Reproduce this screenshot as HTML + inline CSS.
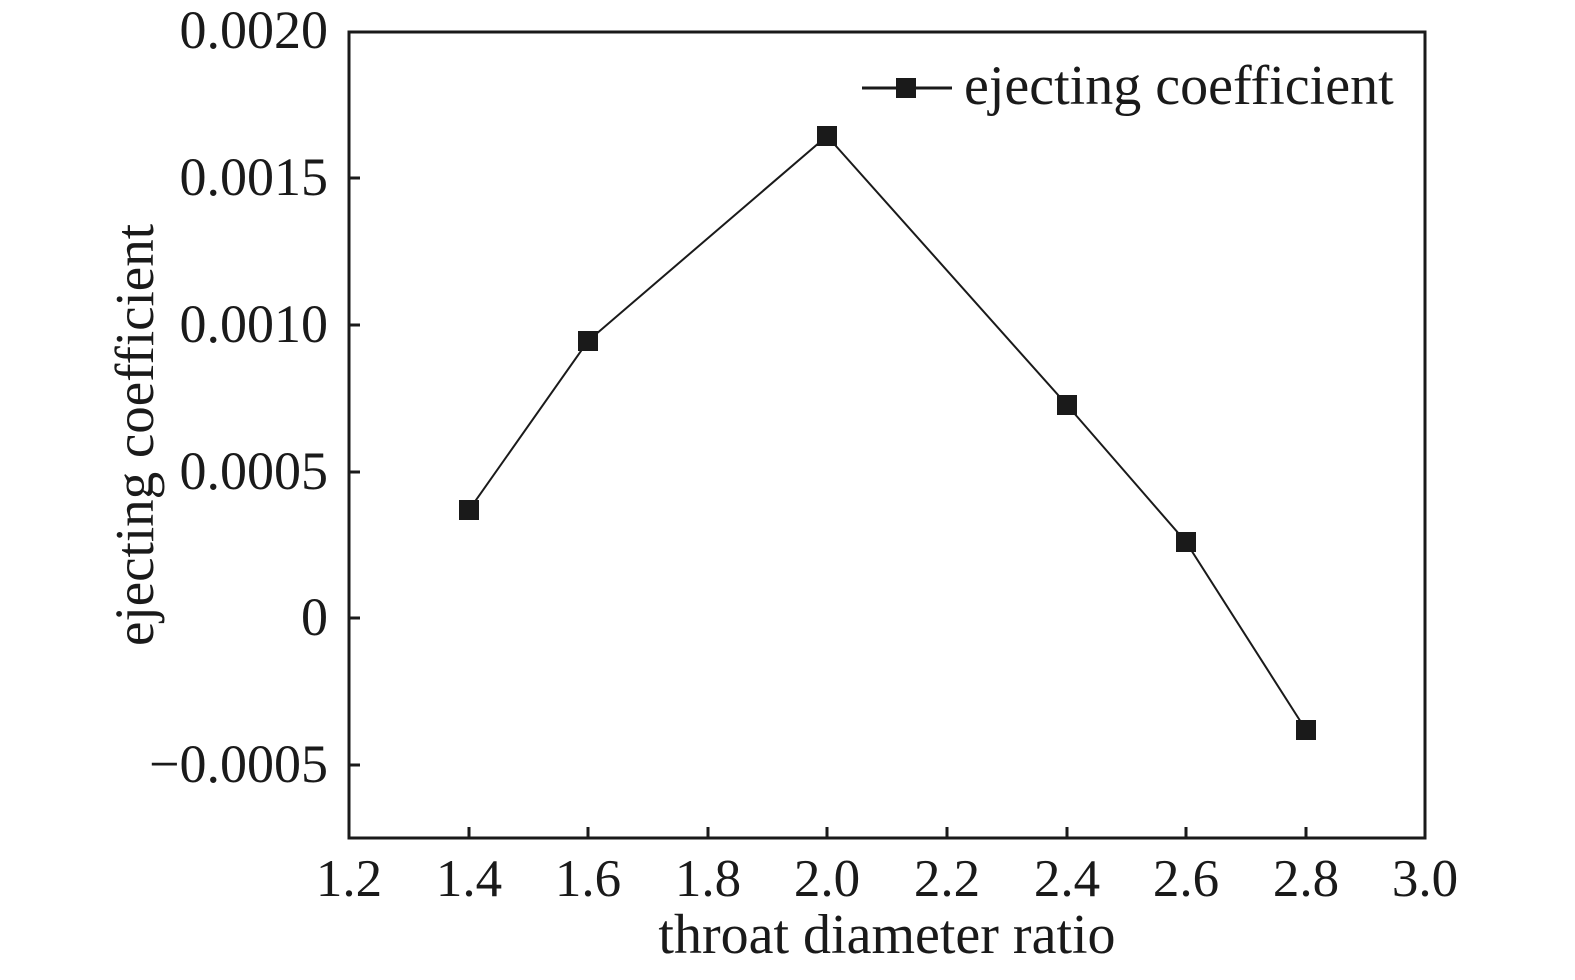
<!DOCTYPE html>
<html><head><style>body{margin:0;background:#fff}</style></head><body>
<svg width="1575" height="975" xmlns="http://www.w3.org/2000/svg" font-family="Liberation Serif, serif" fill="#1a1a1a">
<rect x="349" y="32" width="1076" height="806" fill="none" stroke="#1a1a1a" stroke-width="3"/>
<g stroke="#1a1a1a" stroke-width="3">
<line x1="469" y1="838" x2="469" y2="827"/><line x1="588" y1="838" x2="588" y2="827"/><line x1="708" y1="838" x2="708" y2="827"/><line x1="827" y1="838" x2="827" y2="827"/><line x1="947" y1="838" x2="947" y2="827"/><line x1="1067" y1="838" x2="1067" y2="827"/><line x1="1186" y1="838" x2="1186" y2="827"/><line x1="1306" y1="838" x2="1306" y2="827"/>
<line x1="349" y1="178" x2="360" y2="178"/><line x1="349" y1="325" x2="360" y2="325"/><line x1="349" y1="472" x2="360" y2="472"/><line x1="349" y1="618" x2="360" y2="618"/><line x1="349" y1="765" x2="360" y2="765"/>
</g>
<g font-size="53" text-anchor="middle">
<text x="349" y="896">1.2</text><text x="469" y="896">1.4</text><text x="588" y="896">1.6</text><text x="708" y="896">1.8</text><text x="827" y="896">2.0</text><text x="947" y="896">2.2</text><text x="1067" y="896">2.4</text><text x="1186" y="896">2.6</text><text x="1306" y="896">2.8</text><text x="1425" y="896">3.0</text>
</g>
<g font-size="54" text-anchor="end">
<text x="328" y="48">0.0020</text><text x="328" y="195">0.0015</text><text x="328" y="342">0.0010</text><text x="328" y="489">0.0005</text><text x="328" y="635">0</text><text x="328" y="782">−0.0005</text>
</g>
<text x="887" y="953" font-size="56" text-anchor="middle">throat diameter ratio</text>
<text transform="translate(153,435) rotate(-90)" font-size="55" text-anchor="middle">ejecting coefficient</text>
<polyline points="469,510 588,341 827,136 1067,405 1186,542 1306,730" fill="none" stroke="#1a1a1a" stroke-width="2"/>
<g>
<rect x="459" y="500" width="20" height="20"/><rect x="578" y="331" width="20" height="20"/><rect x="817" y="126" width="20" height="20"/><rect x="1057" y="395" width="20" height="20"/><rect x="1176" y="532" width="20" height="20"/><rect x="1296" y="720" width="20" height="20"/>
</g>
<line x1="862" y1="88" x2="952" y2="88" stroke="#1a1a1a" stroke-width="3"/>
<rect x="896" y="78" width="20" height="20"/>
<text x="964" y="104" font-size="56">ejecting coefficient</text>
</svg>
</body></html>
